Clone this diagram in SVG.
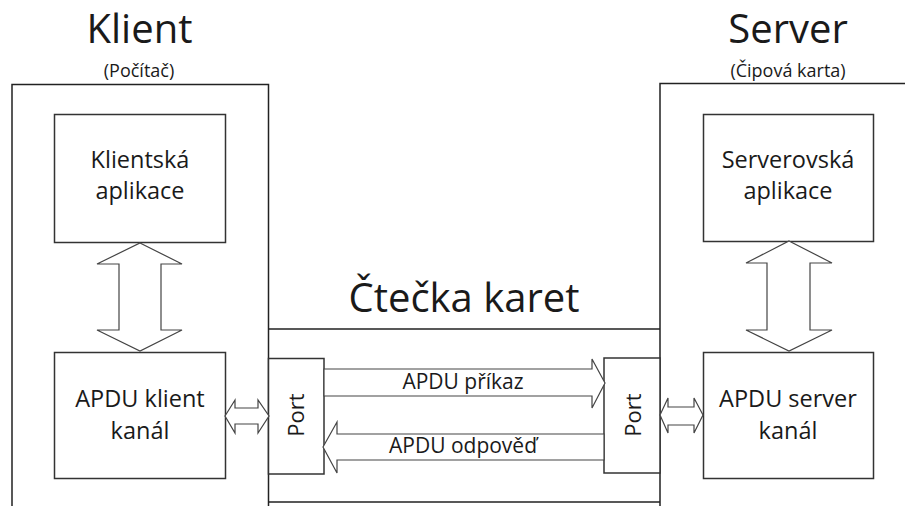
<svg xmlns="http://www.w3.org/2000/svg" width="905" height="506" viewBox="0 0 905 506">
<style>
text{font-family:"Open Sans","Noto Sans","DejaVu Sans",sans-serif;fill:#1a1a1a}
.title{font-size:40px;text-anchor:middle}
.sub{font-size:18px;text-anchor:middle}
.lbl{font-size:23.5px;text-anchor:middle}
.arr{font-size:21px;text-anchor:middle}
.port{font-size:22px;text-anchor:middle}
.box{fill:#fff;stroke:#333;stroke-width:1.5}
.frame{fill:none;stroke:#222;stroke-width:1.5}
.ar{fill:#fff;stroke:#444;stroke-width:1.2;stroke-linejoin:miter}
</style>
<rect width="905" height="506" fill="#fff"/>
<g id="klient">
<path class="frame" d="M12,506 V84.5 H268.5 V506"/>
<text class="title" x="139.5" y="43">Klient</text>
<text class="sub" x="139" y="77">(Počítač)</text>
</g>
<g id="server">
<path class="frame" d="M660,506 V83.5 H905"/>
<text class="title" x="788" y="43">Server</text>
<text class="sub" x="788" y="77">(Čipová karta)</text>
</g>
<g id="ctecka">
<path class="frame" d="M268.5,329 H660 M268.5,502 H660" stroke="#444" stroke-width="2"/>
<text class="title" x="464" y="312">Čtečka karet</text>
</g>
<g id="klientska-aplikace">
<rect class="box" x="54.5" y="114.5" width="171" height="128"/>
<text class="lbl" x="140" y="168">Klientská</text>
<text class="lbl" x="140" y="199">aplikace</text>
</g>
<g id="apdu-klient">
<rect class="box" x="54.5" y="352.5" width="171" height="126"/>
<text class="lbl" x="140" y="407">APDU klient</text>
<text class="lbl" x="140" y="439">kanál</text>
</g>
<g id="serverova-aplikace">
<rect class="box" x="703.5" y="114.5" width="170" height="127"/>
<text class="lbl" x="788" y="168">Serverovská</text>
<text class="lbl" x="788" y="199">aplikace</text>
</g>
<g id="apdu-server">
<rect class="box" x="703.5" y="352.5" width="170" height="126"/>
<text class="lbl" x="788" y="407">APDU server</text>
<text class="lbl" x="788" y="439">kanál</text>
</g>
<g id="port-klient">
<rect class="box" x="268.5" y="358.5" width="55.5" height="115.5"/>
<text class="port" transform="translate(304,415) rotate(-90)">Port</text>
</g>
<g id="port-server">
<rect class="box" x="604" y="358" width="56" height="115"/>
<text class="port" transform="translate(641,415) rotate(-90)">Port</text>
</g>
<g id="connectors">
<polygon class="ar" points="140,243 182,264 161,264 161,330 182,330 140,351 97,330 119,330 119,264 97,264"/>
<polygon class="ar" points="789,241 832,263 810,263 810,330 832,330 789,351 746,330 767,330 767,263 746,263"/>
<polygon class="ar" points="225,416 235,400 235,408 258,408 258,400 269,416 258,433 258,424 235,424 235,433"/>
<polygon class="ar" points="660,415 668,398 668,407 694,407 694,398 703,415 694,433 694,425 668,425 668,433"/>
<polygon class="ar" points="324,369 592,369 592,359 605,383 592,408 592,396 324,396"/>
<polygon class="ar" points="323,447 337,422 337,434 604,434 604,460 337,460 337,473"/>
<text class="arr" x="463" y="389">APDU příkaz</text>
<text class="arr" x="463" y="453">APDU odpověď</text>
</g>
</svg>
